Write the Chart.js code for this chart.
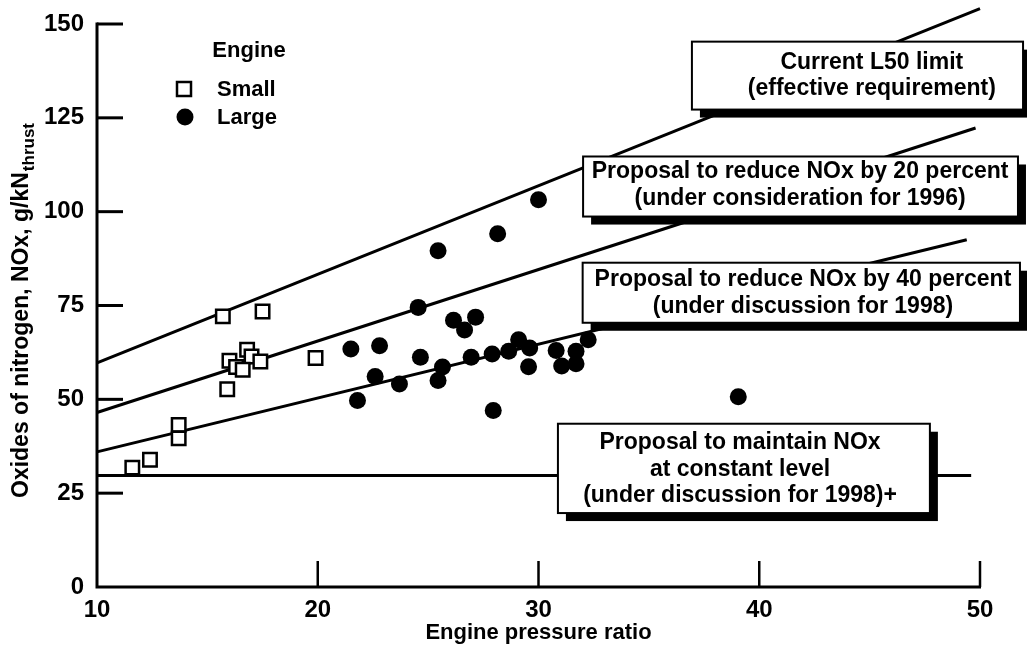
<!DOCTYPE html>
<html>
<head>
<meta charset="utf-8">
<script src="https://cdn.jsdelivr.net/npm/chart.js@4.4.0/dist/chart.umd.min.js"></script>
<style>
  html, body { margin: 0; padding: 0; background: #fff; }
  #wrap { width: 1027px; height: 647px; }
</style>
</head>
<body>
<div id="wrap"><canvas id="noxChart" width="1027" height="647"></canvas></div>
<script>
// Small engines (open squares)
const smallPR  = [11.6, 12.4, 13.7, 13.7, 15.7, 17.5, 15.9, 16.0, 16.8, 17.0, 17.4, 16.3, 16.6, 19.9];
const smallNOx = [31.8, 33.9, 43.2, 39.6, 72.1, 73.4, 52.7, 60.3, 63.2, 61.4, 60.1, 58.6, 57.9, 61.0];

// Large engines (filled circles)
const largePR  = [21.5, 21.8, 22.6, 22.8, 23.7, 24.55, 24.65, 25.45, 25.45, 25.65, 26.15, 26.65, 26.95, 27.15,
                  27.9, 27.95, 28.15, 28.65, 29.1, 29.6, 29.55, 30.0, 30.8, 31.05, 31.7, 31.7, 32.25, 39.05];
const largeNOx = [63.4, 49.7, 56.1, 64.3, 54.1, 74.5, 61.2, 89.6, 55.0, 58.6, 71.1, 68.5, 61.2, 71.9,
                  62.1, 47.0, 94.1, 62.8, 65.9, 63.7, 58.7, 103.2, 63.0, 58.9, 62.8, 59.5, 65.9, 50.7];

// Limit lines (start / end)
const l50PR    = [10, 50];
const l50NOx   = [59.7, 154.1];
const cut20PR  = [10, 49.8];
const cut20NOx = [46.5, 122.3];
const cut40PR  = [10, 49.4];
const cut40NOx = [36.0, 92.5];
const flatPR   = [10, 49.6];
const flatNOx  = [29.7, 29.7];

// Axis ticks
const xTicks = [10, 20, 30, 40, 50];
const yTicks = [0, 25, 50, 75, 100, 125, 150];

const FONT = '"Liberation Sans", Arial, sans-serif';

// Labelled boxes sitting on the lines (data coords)
const boxes = [
    { x1: 36.95, x2: 51.95, y1: 145.3, y2: 127.2, tx: 45.1, ty: 136.2,
      lines: ['Current L50 limit', '(effective requirement)'] },
    { x1: 32.02, x2: 51.72, y1: 114.7, y2: 98.7, tx: 41.85, ty: 107.0,
      lines: ['Proposal to reduce NOx by 20 percent', '(under consideration for 1996)'] },
    { x1: 32.0, x2: 51.81, y1: 86.4, y2: 70.4, tx: 41.98, ty: 78.3,
      lines: ['Proposal to reduce NOx by 40 percent', '(under discussion for 1998)'] },
    { x1: 30.88, x2: 47.73, y1: 43.5, y2: 19.7, tx: 39.13, ty: 31.3,
      lines: ['Proposal to maintain NOx', 'at constant level', '(under discussion for 1998)+'] }
];

function toPoints(xs, ys) {
    return xs.map((x, i) => ({ x: x, y: ys[i] }));
}

function lineSet(xs, ys) {
    return {
        data: toPoints(xs, ys),
        showLine: true,
        borderColor: '#000',
        borderWidth: 3,
        pointRadius: 0,
        clip: false,
        order: 3
    };
}

// Axis lines with inward ticks
const axesPlugin = {
    id: 'axes',
    beforeDatasetsDraw(chart) {
        const { ctx, scales: { x, y } } = chart;
        const x0 = x.getPixelForValue(10);
        const y0 = y.getPixelForValue(0);
        ctx.save();
        ctx.strokeStyle = '#000';
        ctx.lineWidth = 3;
        ctx.beginPath();
        ctx.moveTo(x0, y.getPixelForValue(150) - 1.5);
        ctx.lineTo(x0, y0);
        ctx.lineTo(x.getPixelForValue(50) + 1, y0);
        ctx.stroke();
        yTicks.filter(v => v > 0).forEach(v => {
            const py = y.getPixelForValue(v);
            ctx.beginPath();
            ctx.moveTo(x0, py);
            ctx.lineTo(x0 + 26, py);
            ctx.stroke();
        });
        ctx.lineWidth = 2.5;
        xTicks.filter(v => v > 10).forEach(v => {
            const px = x.getPixelForValue(v);
            ctx.beginPath();
            ctx.moveTo(px, y0);
            ctx.lineTo(px, y0 - 26);
            ctx.stroke();
        });
        ctx.restore();
    }
};

// Boxes, legend and y title
const notesPlugin = {
    id: 'notes',
    afterDatasetsDraw(chart) {
        const { ctx, scales: { x, y } } = chart;
        ctx.save();

        boxes.forEach(b => {
            const left = x.getPixelForValue(b.x1), right = x.getPixelForValue(b.x2);
            const top = y.getPixelForValue(b.y1), bottom = y.getPixelForValue(b.y2);
            const w = right - left, h = bottom - top;
            ctx.fillStyle = '#000';
            ctx.fillRect(left + 8, top + 8, w, h);
            ctx.fillStyle = '#fff';
            ctx.fillRect(left, top, w, h);
            ctx.strokeStyle = '#000';
            ctx.lineWidth = 2;
            ctx.strokeRect(left, top, w, h);

            ctx.fillStyle = '#000';
            ctx.font = 'bold 23px ' + FONT;
            ctx.textAlign = 'center';
            ctx.textBaseline = 'middle';
            const cx = x.getPixelForValue(b.tx), cy = y.getPixelForValue(b.ty);
            const lh = 26.5;
            b.lines.forEach((t, i) => {
                ctx.fillText(t, cx, cy + (i - (b.lines.length - 1) / 2) * lh);
            });
        });

        // legend
        ctx.fillStyle = '#000';
        ctx.font = 'bold 22px ' + FONT;
        ctx.textAlign = 'center';
        ctx.textBaseline = 'middle';
        ctx.fillText('Engine', 249, 51);
        ctx.textAlign = 'left';
        ctx.fillText('Small', 217, 90);
        ctx.fillText('Large', 217, 118);
        ctx.fillStyle = '#fff';
        ctx.fillRect(177, 82, 14, 14);
        ctx.strokeStyle = '#000';
        ctx.lineWidth = 2.5;
        ctx.strokeRect(177, 82, 14, 14);
        ctx.fillStyle = '#000';
        ctx.beginPath();
        ctx.arc(185, 117, 8.5, 0, Math.PI * 2);
        ctx.fill();

        // y title with subscript
        ctx.translate(22, 498);
        ctx.rotate(-Math.PI / 2);
        ctx.textAlign = 'left';
        ctx.textBaseline = 'middle';
        ctx.font = 'bold 23px ' + FONT;
        const main = 'Oxides of nitrogen, NOx, g/kN';
        ctx.fillText(main, 0, 0);
        const mw = ctx.measureText(main).width;
        ctx.font = 'bold 17px ' + FONT;
        ctx.fillText('thrust', mw + 1, 7);
        ctx.restore();
    }
};

Chart.defaults.font.family = FONT;
Chart.defaults.font.size = 22;
Chart.defaults.font.weight = 'bold';
Chart.defaults.color = '#000';

new Chart(document.getElementById('noxChart'), {
    type: 'scatter',
    data: {
        datasets: [
            {
                label: 'Small',
                data: toPoints(smallPR, smallNOx),
                pointStyle: 'rect',
                pointRadius: 9.5,
                pointBorderWidth: 2.5,
                backgroundColor: '#fff',
                borderColor: '#000',
                order: 1
            },
            {
                label: 'Large',
                data: toPoints(largePR, largeNOx),
                pointStyle: 'circle',
                pointRadius: 8.5,
                pointBorderWidth: 0,
                backgroundColor: '#000',
                borderColor: '#000',
                order: 2
            },
            lineSet(l50PR, l50NOx),
            lineSet(cut20PR, cut20NOx),
            lineSet(cut40PR, cut40NOx),
            lineSet(flatPR, flatNOx)
        ]
    },
    options: {
        responsive: false,
        animation: false,
        devicePixelRatio: 1,
        layout: { padding: { left: 0, right: 47, top: 24, bottom: 0 } },
        plugins: {
            legend: { display: false },
            tooltip: { enabled: false }
        },
        scales: {
            x: {
                type: 'linear',
                min: 10,
                max: 50,
                afterBuildTicks: s => { s.ticks = xTicks.map(v => ({ value: v })); },
                afterFit: s => { s.height = 60; s.paddingLeft = 0; s.paddingRight = 0; },
                grid: { display: false, drawTicks: false },
                border: { display: false },
                ticks: { padding: 9, font: { size: 24, weight: 'bold' } },
                title: {
                    display: true,
                    text: 'Engine pressure ratio',
                    font: { size: 22, weight: 'bold' },
                    padding: { top: 0, bottom: 1 }
                }
            },
            y: {
                type: 'linear',
                min: 0,
                max: 150,
                afterBuildTicks: s => { s.ticks = yTicks.map(v => ({ value: v })); },
                afterFit: s => { s.width = 97; s.paddingTop = 0; s.paddingBottom = 0; },
                grid: { display: false, drawTicks: false },
                border: { display: false },
                ticks: { padding: 13, font: { size: 24, weight: 'bold' } }
            }
        }
    },
    plugins: [axesPlugin, notesPlugin]
});
</script>
</body>
</html>
